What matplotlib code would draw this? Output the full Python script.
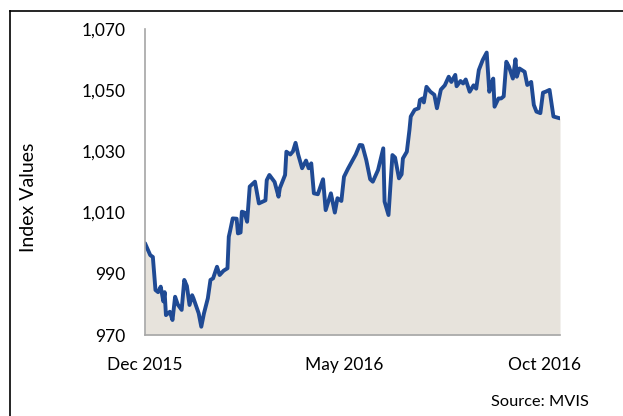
import pandas as pd
import numpy as np
import matplotlib
matplotlib.use('Agg')
import matplotlib.pyplot as plt
from matplotlib.lines import Line2D

plt.rcParams['font.family'] = ['Lato', 'DejaVu Sans']

# index values
dates = ['2015-12-01', '2015-12-05', '2015-12-07', '2015-12-09', '2015-12-11', '2015-12-13',
         '2015-12-15', '2015-12-16', '2015-12-17', '2015-12-20', '2015-12-22', '2015-12-24',
         '2015-12-26', '2015-12-29', '2015-12-31', '2016-01-02', '2016-01-04', '2016-01-06',
         '2016-01-07', '2016-01-11', '2016-01-13', '2016-01-15', '2016-01-18', '2016-01-20',
         '2016-01-22', '2016-01-25', '2016-01-27', '2016-01-30', '2016-02-02', '2016-02-03',
         '2016-02-04', '2016-02-06', '2016-02-09', '2016-02-10', '2016-02-12', '2016-02-13',
         '2016-02-15', '2016-02-17', '2016-02-19', '2016-02-23', '2016-02-26', '2016-03-02',
         '2016-03-03', '2016-03-05', '2016-03-09', '2016-03-12', '2016-03-13', '2016-03-17',
         '2016-03-18', '2016-03-21', '2016-03-23', '2016-03-25', '2016-03-27', '2016-03-30',
         '2016-04-02', '2016-04-04', '2016-04-06', '2016-04-08', '2016-04-11', '2016-04-15',
         '2016-04-17', '2016-04-21', '2016-04-24', '2016-04-26', '2016-04-29', '2016-05-01',
         '2016-05-04', '2016-05-08', '2016-05-10', '2016-05-13', '2016-05-15', '2016-05-18',
         '2016-05-21', '2016-05-23', '2016-05-27', '2016-05-31', '2016-06-01', '2016-06-04',
         '2016-06-07', '2016-06-09', '2016-06-12', '2016-06-14', '2016-06-15', '2016-06-18',
         '2016-06-20', '2016-06-21', '2016-06-24', '2016-06-27', '2016-06-28', '2016-06-30',
         '2016-07-01', '2016-07-03', '2016-07-06', '2016-07-09', '2016-07-11', '2016-07-14',
         '2016-07-17', '2016-07-20', '2016-07-22', '2016-07-25', '2016-07-26', '2016-07-29',
         '2016-07-31', '2016-08-02', '2016-08-05', '2016-08-08', '2016-08-10', '2016-08-12',
         '2016-08-15', '2016-08-18', '2016-08-20', '2016-08-22', '2016-08-23', '2016-08-24',
         '2016-08-27', '2016-08-29', '2016-08-31', '2016-09-02', '2016-09-04', '2016-09-07',
         '2016-09-09', '2016-09-10', '2016-09-12', '2016-09-16', '2016-09-18', '2016-09-21',
         '2016-09-23', '2016-09-25', '2016-09-28', '2016-09-30', '2016-10-02', '2016-10-05',
         '2016-10-08', '2016-10-13']
values = [1000.0, 996.1, 995.5, 984.7, 984.0, 985.8,
          981.0, 984.0, 976.5, 977.6, 974.9, 982.5,
          980.0, 978.2, 988.0, 986.0, 979.8, 983.0,
          982.0, 977.1, 972.7, 977.0, 982.0, 988.0,
          988.5, 992.3, 989.6, 991.0, 991.8, 1002.1,
          1004.0, 1008.1, 1008.0, 1003.2, 1003.5, 1010.3,
          1010.0, 1007.0, 1018.5, 1020.1, 1013.0, 1014.0,
          1020.6, 1022.3, 1020.0, 1015.2, 1018.0, 1022.3,
          1029.9, 1029.0, 1030.0, 1032.8, 1029.0, 1024.5,
          1027.0, 1024.5, 1026.1, 1016.3, 1016.0, 1020.9,
          1010.8, 1016.3, 1010.0, 1014.7, 1013.8, 1021.7,
          1024.3, 1027.4, 1029.0, 1032.1, 1032.0, 1027.2,
          1020.9, 1020.1, 1023.9, 1031.0, 1013.6, 1009.2,
          1028.8, 1028.0, 1021.2, 1022.5, 1027.7, 1029.9,
          1037.0, 1041.4, 1043.6, 1044.1, 1046.8, 1047.3,
          1046.0, 1051.1, 1049.5, 1048.5, 1044.1, 1050.2,
          1051.6, 1054.4, 1052.7, 1055.0, 1051.3, 1053.0,
          1052.2, 1053.5, 1049.5, 1051.6, 1050.5, 1056.6,
          1059.9, 1062.3, 1049.5, 1052.7, 1053.8, 1044.6,
          1047.3, 1047.3, 1048.0, 1059.3, 1057.7, 1053.8,
          1060.1, 1054.4, 1057.1, 1056.0, 1051.7, 1052.7,
          1045.2, 1043.0, 1042.5, 1049.2, 1049.5, 1050.1,
          1041.4, 1040.8]

x_ticks = ['2015-12-01', '2016-05-01', '2016-10-01']
x_labels = ['Dec 2015', 'May 2016', 'Oct 2016']
y_ticks = [970, 990, 1010, 1030, 1050, 1070]

dates = pd.to_datetime(dates)

fig = plt.figure(figsize=(6.23, 4.16), dpi=100)
ax = fig.add_axes([145/623, 1 - 335/416, (560 - 145)/623, (335 - 29)/416])

ax.fill_between(dates, 970, values, color='#E7E3DC', linewidth=0)
ax.plot(dates, values, color='#1F4A94', linewidth=2.8, solid_joinstyle='round',
        solid_capstyle='round')

ax.set_xlim(dates[0], dates[-1])
ax.set_ylim(970, 1070)
ax.set_yticks(y_ticks)
ax.set_yticklabels(['{:,}'.format(v) for v in y_ticks])
ax.set_xticks(pd.to_datetime(x_ticks))
ax.set_xticklabels(x_labels)
ax.tick_params(axis='y', length=0, pad=14, labelsize=12.5, colors='black')
ax.tick_params(axis='x', length=0, pad=16, labelsize=12.5, colors='black')

for s in ['top', 'right']:
    ax.spines[s].set_visible(False)
for s in ['left', 'bottom']:
    ax.spines[s].set_color('#A6A6A6')
    ax.spines[s].set_linewidth(1.2)

fig.text(28/623, 1 - 197/416, 'Index Values', rotation=90, ha='center', va='center', fontsize=14)
fig.text(589/623, 1 - 402/416, 'Source: MVIS', ha='right', va='center', fontsize=11.8)

# outer frame
fig.add_artist(Line2D([10/623, 1], [1 - 11/416, 1 - 11/416], transform=fig.transFigure, color='black', linewidth=1.2))
fig.add_artist(Line2D([10/623, 10/623], [0, 1 - 11/416], transform=fig.transFigure, color='black', linewidth=1.2))

fig.savefig('out.png', dpi=100)
